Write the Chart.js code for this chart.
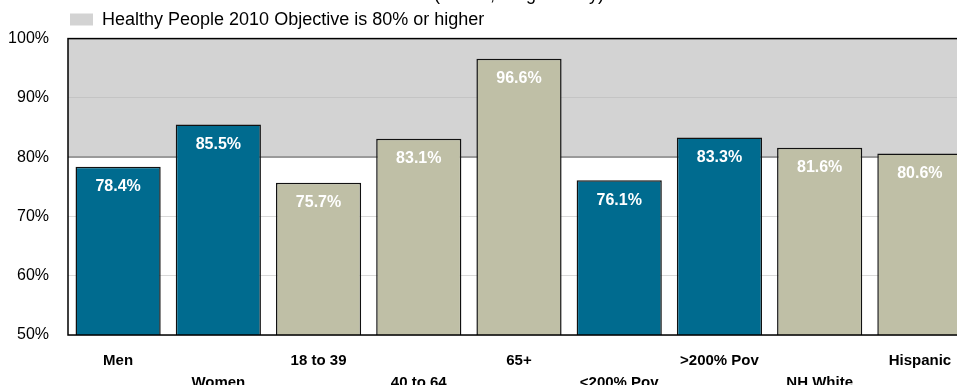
<!DOCTYPE html>
<html lang="en">
<head>
    <meta charset="UTF-8">
    <title>Healthy People 2010 Objective</title>
    <script src="https://cdn.jsdelivr.net/npm/chart.js"></script>
    <style>
        html, body { margin: 0; padding: 0; background: #fff; overflow: hidden; }
        .wrap { position: absolute; left: 0; top: -20px; width: 975px; height: 429px; }
    </style>
</head>
<body>
    <div class="wrap"><canvas id="chart"></canvas></div>

    <script>
        // datos del gráfico
        const categories = [['Men'], ['', 'Women'], ['18 to 39'], ['', '40 to 64'], ['65+'],
                            ['', '<200% Pov'], ['>200% Pov'], ['', 'NH White'], ['Hispanic']];
        const values = [78.4, 85.5, 75.7, 83.1, 96.6, 76.1, 83.3, 81.6, 80.6];
        const groups = ['sex', 'sex', 'age', 'age', 'age', 'income', 'income', 'race', 'race'];
        const yTicks = [50, 60, 70, 80, 90, 100];
        const objective = 80;

        const TEAL = '#006b8f';
        const KHAKI = '#bfbfa6';
        const barColors = groups.map(g => (g === 'sex' || g === 'income') ? TEAL : KHAKI);
        const FONT = "'Liberation Sans', Arial, sans-serif";

        // banda gris del objetivo (80% a 100%)
        const bandPlugin = {
            id: 'band',
            beforeDraw(chart) {
                const { ctx, chartArea, scales } = chart;
                const yTop = scales.y.getPixelForValue(100);
                const yBot = scales.y.getPixelForValue(objective);
                ctx.save();
                ctx.fillStyle = '#d3d3d3';
                ctx.fillRect(chartArea.left, yTop, chartArea.right - chartArea.left, yBot - yTop);
                ctx.restore();
            },
            afterDatasetsDraw(chart) {
                const { ctx, chartArea } = chart;
                ctx.save();
                ctx.strokeStyle = '#000';
                ctx.lineWidth = 1.5;
                ctx.strokeRect(chartArea.left, chartArea.top, chartArea.right - chartArea.left, chartArea.bottom - chartArea.top);
                // etiquetas de valores
                const meta = chart.getDatasetMeta(0);
                ctx.fillStyle = '#fff';
                ctx.font = 'bold 16px ' + FONT;
                ctx.textAlign = 'center';
                ctx.textBaseline = 'middle';
                meta.data.forEach((bar, i) => {
                    ctx.fillText(values[i].toFixed(1) + '%', bar.x, bar.y + 20);
                });
                ctx.restore();
            }
        };

        new Chart(document.getElementById('chart').getContext('2d'), {
            type: 'bar',
            data: {
                labels: categories,
                datasets: [{
                    label: 'values',
                    data: values,
                    backgroundColor: barColors,
                    borderColor: '#111',
                    borderWidth: 1.5,
                    borderSkipped: false,
                    grouped: false,
                    barPercentage: 0.85,
                    categoryPercentage: 1
                }, {
                    label: 'Healthy People 2010 Objective is 80% or higher',
                    data: [],
                    grouped: false,
                    backgroundColor: '#d3d3d3',
                    borderWidth: 0
                }]
            },
            options: {
                responsive: true,
                maintainAspectRatio: false,
                animation: false,
                layout: { padding: { left: 0, right: 5, top: 0, bottom: 0 } },
                plugins: {
                    tooltip: { enabled: false },
                    title: {
                        display: true,
                        fullSize: false,
                        text: '(Adults, King County)',
                        color: '#000',
                        font: { family: FONT, size: 18, weight: 'normal' },
                        padding: { top: 4, bottom: 3 }
                    },
                    legend: {
                        display: true,
                        fullSize: false,
                        align: 'start',
                        labels: {
                            filter: item => item.datasetIndex === 1,
                            color: '#000',
                            font: { family: FONT, size: 18 },
                            boxWidth: 23,
                            boxHeight: 12,
                            padding: 2
                        }
                    }
                },
                scales: {
                    x: {
                        grid: { display: false, drawTicks: false },
                        border: { display: false },
                        ticks: {
                            color: '#000',
                            font: { family: FONT, size: 15, weight: 'bold', lineHeight: '22px' },
                            maxRotation: 0,
                            autoSkip: false,
                            padding: 15
                        }
                    },
                    y: {
                        min: 50,
                        max: 100,
                        afterBuildTicks: axis => { axis.ticks = yTicks.map(v => ({ value: v })); },
                        afterFit: axis => { axis.width = 68; },
                        grid: {
                            drawTicks: false,
                            color: ctx => ctx.tick.value === objective ? '#9a9a9a' :
                                         ctx.tick.value > objective ? '#c4c4c4' : '#d9d9d9',
                            lineWidth: ctx => ctx.tick.value === objective ? 2 : 1
                        },
                        border: { display: false },
                        ticks: {
                            color: '#000',
                            font: { family: FONT, size: 16 },
                            padding: 19,
                            callback: v => v + '%'
                        }
                    }
                }
            },
            plugins: [bandPlugin]
        });
    </script>
</body>
</html>
